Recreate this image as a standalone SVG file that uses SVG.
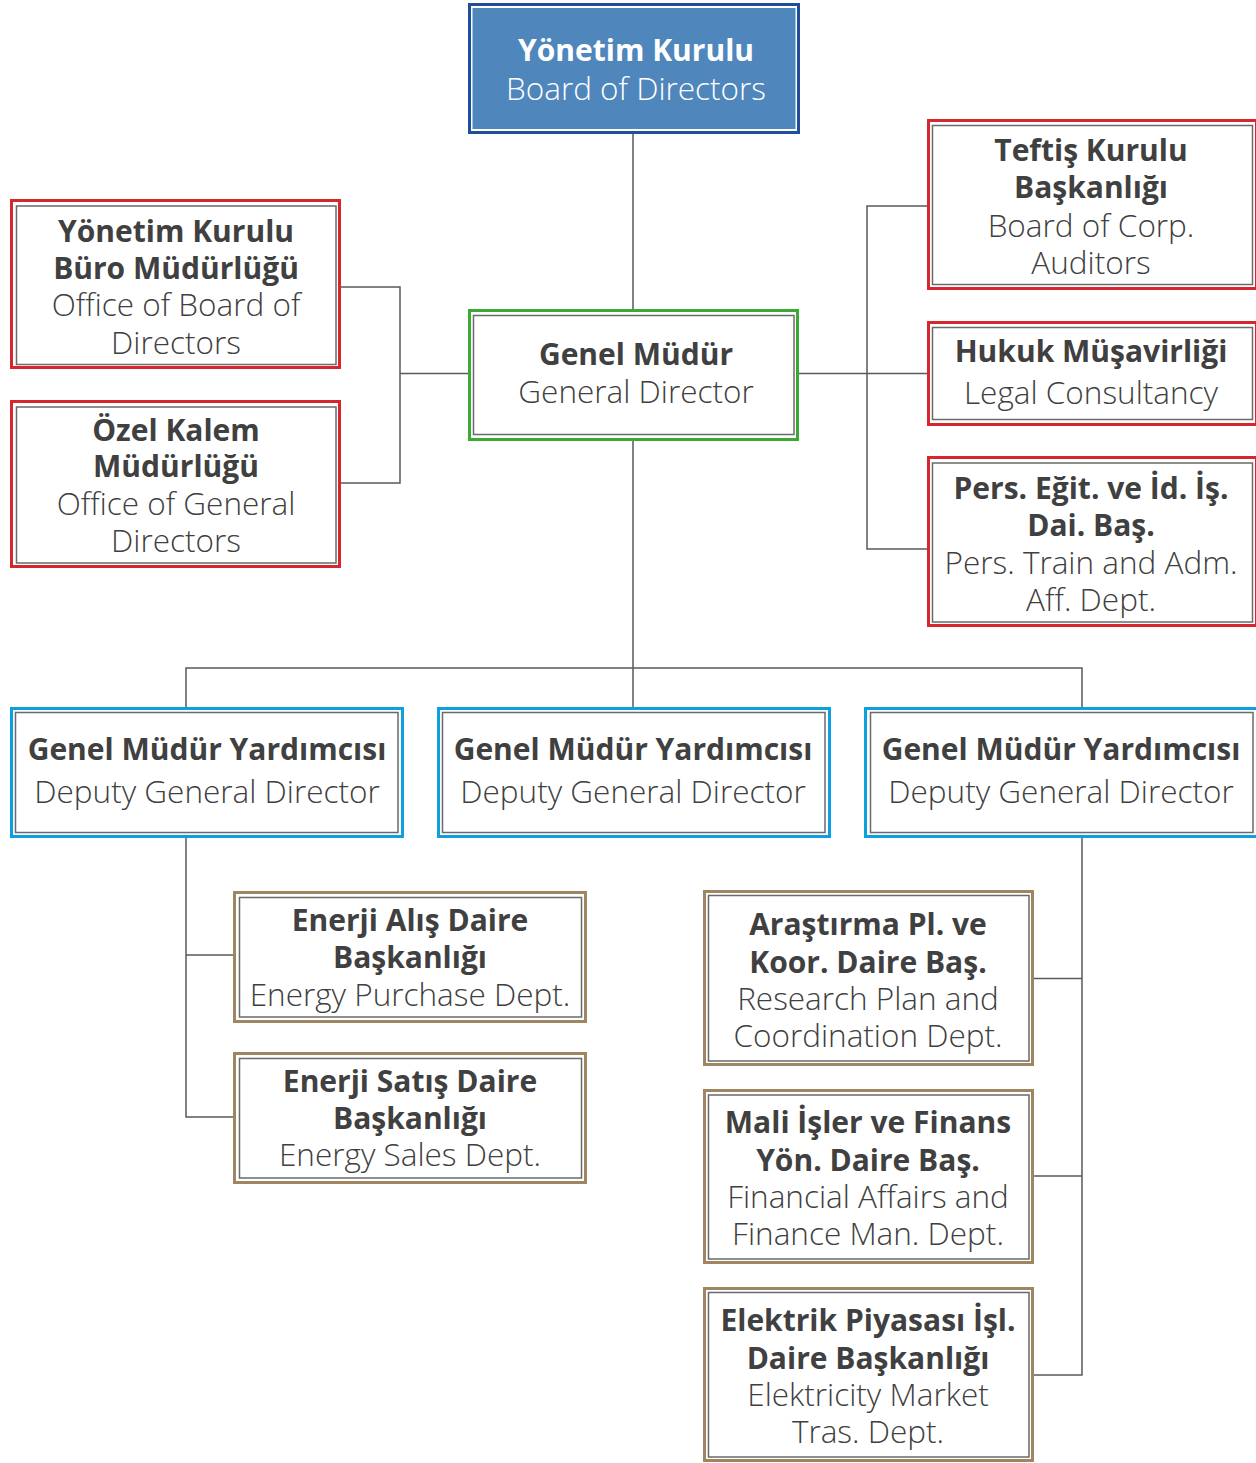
<svg xmlns="http://www.w3.org/2000/svg" width="1256" height="1463" viewBox="0 0 1256 1463">
<style>
.b{font-family:"Open Sans","Noto Sans","Liberation Sans",sans-serif;font-weight:700;font-size:30px;fill:#404040;text-anchor:middle}
.l{font-family:"Open Sans","Noto Sans","Liberation Sans",sans-serif;font-weight:300;font-size:31.5px;fill:#404040;text-anchor:middle}
.w{fill:#ffffff}
.in{fill:#fff;stroke:#6a6a6a;stroke-width:1.5}
.red{fill:#fff;stroke:#d7262e;stroke-width:3}
.grn{fill:#fff;stroke:#3aaa35;stroke-width:3}
.blu{fill:#fff;stroke:#0da0e0;stroke-width:3}
.brn{fill:#fff;stroke:#a08660;stroke-width:3}
.cn{fill:none;stroke:#595959;stroke-width:1.5}
</style>
<g id="connectors">
<path class="cn" d="M633 134V309M633 440V707M186 707V668H1082V707"/>
<path class="cn" d="M468 373.5H400M341 287H400V483H341"/>
<path class="cn" d="M799 373.5H927M927 206H867V549H927"/>
<path class="cn" d="M186 838V1117H234M186 955H234"/>
<path class="cn" d="M1082 838V1375H1034M1034 978.5H1082M1034 1176H1082"/>
</g>
<g id="board">
<rect x="469.5" y="4.5" width="329" height="128" fill="#fff" stroke="#1f4f9c" stroke-width="3"/>
<rect x="472.5" y="8" width="323" height="121" fill="#4f86bb"/>
<text class="b w" x="636" y="61">Yönetim Kurulu</text>
<text class="l w" x="636" y="100">Board of Directors</text>
</g>
<g id="buro">
<rect class="red" x="11.5" y="200.5" width="328" height="167"/>
<rect class="in" x="16.5" y="206" width="319.5" height="158.5"/>
<text class="b" x="176" y="242">Yönetim Kurulu</text>
<text class="b" x="176" y="279">Büro Müdürlüğü</text>
<text class="l" x="176" y="316">Office of Board of</text>
<text class="l" x="176" y="354">Directors</text>
</g>
<g id="ozel">
<rect class="red" x="11.5" y="401.5" width="328" height="165"/>
<rect class="in" x="16.5" y="407" width="319.5" height="156"/>
<text class="b" x="176" y="441">Özel Kalem</text>
<text class="b" x="176" y="477">Müdürlüğü</text>
<text class="l" x="176" y="515">Office of General</text>
<text class="l" x="176" y="552">Directors</text>
</g>
<g id="genel">
<rect class="grn" x="469.5" y="310.5" width="328" height="129"/>
<rect class="in" x="473.5" y="315.5" width="320.5" height="119"/>
<text class="b" x="636" y="365">Genel Müdür</text>
<text class="l" x="636" y="403">General Director</text>
</g>
<g id="teftis">
<rect class="red" x="928.5" y="120.5" width="328" height="168"/>
<rect class="in" x="932.5" y="125.5" width="320" height="159"/>
<text class="b" x="1091" y="161">Teftiş Kurulu</text>
<text class="b" x="1091" y="198">Başkanlığı</text>
<text class="l" x="1091" y="237">Board of Corp.</text>
<text class="l" x="1091" y="274">Auditors</text>
</g>
<g id="hukuk">
<rect class="red" x="928.5" y="322.5" width="328" height="102"/>
<rect class="in" x="932.5" y="327.5" width="320" height="92"/>
<text class="b" x="1091" y="362">Hukuk Müşavirliği</text>
<text class="l" x="1091" y="404">Legal Consultancy</text>
</g>
<g id="pers">
<rect class="red" x="928.5" y="457.5" width="328" height="168"/>
<rect class="in" x="932.5" y="463" width="320" height="159"/>
<text class="b" x="1091" y="499">Pers. Eğit. ve İd. İş.</text>
<text class="b" x="1091" y="536">Dai. Baş.</text>
<text class="l" x="1091" y="574">Pers. Train and Adm.</text>
<text class="l" x="1091" y="611">Aff. Dept.</text>
</g>
<g id="gmy1">
<rect class="blu" x="11.5" y="708.5" width="391" height="128"/>
<rect class="in" x="15.5" y="712.5" width="382.5" height="120"/>
<text class="b" x="207" y="760">Genel Müdür Yardımcısı</text>
<text class="l" x="207" y="803">Deputy General Director</text>
</g>
<g id="gmy2">
<rect class="blu" x="438.5" y="708.5" width="391" height="128"/>
<rect class="in" x="442.5" y="712.5" width="382.5" height="120"/>
<text class="b" x="633" y="760">Genel Müdür Yardımcısı</text>
<text class="l" x="633" y="803">Deputy General Director</text>
</g>
<g id="gmy3">
<rect class="blu" x="865.5" y="708.5" width="392" height="128"/>
<rect class="in" x="870.5" y="712.5" width="382.5" height="120"/>
<text class="b" x="1061" y="760">Genel Müdür Yardımcısı</text>
<text class="l" x="1061" y="803">Deputy General Director</text>
</g>
<g id="alis">
<rect class="brn" x="234.5" y="892.5" width="351" height="129"/>
<rect class="in" x="239.5" y="897.5" width="342" height="119.5"/>
<text class="b" x="410" y="931">Enerji Alış Daire</text>
<text class="b" x="410" y="968">Başkanlığı</text>
<text class="l" x="410" y="1006">Energy Purchase Dept.</text>
</g>
<g id="satis">
<rect class="brn" x="234.5" y="1053.5" width="351" height="129"/>
<rect class="in" x="239.5" y="1058.5" width="342" height="119.5"/>
<text class="b" x="410" y="1092">Enerji Satış Daire</text>
<text class="b" x="410" y="1129">Başkanlığı</text>
<text class="l" x="410" y="1166">Energy Sales Dept.</text>
</g>
<g id="arastirma">
<rect class="brn" x="704.5" y="891.5" width="328" height="173"/>
<rect class="in" x="708.5" y="895.5" width="320.5" height="165.5"/>
<text class="b" x="868" y="935">Araştırma Pl. ve</text>
<text class="b" x="868" y="973">Koor. Daire Baş.</text>
<text class="l" x="868" y="1010">Research Plan and</text>
<text class="l" x="868" y="1047">Coordination Dept.</text>
</g>
<g id="mali">
<rect class="brn" x="704.5" y="1090.5" width="328" height="172"/>
<rect class="in" x="708.5" y="1095" width="320.5" height="164"/>
<text class="b" x="868" y="1133">Mali İşler ve Finans</text>
<text class="b" x="868" y="1171">Yön. Daire Baş.</text>
<text class="l" x="868" y="1208">Financial Affairs and</text>
<text class="l" x="868" y="1245">Finance Man. Dept.</text>
</g>
<g id="elektrik">
<rect class="brn" x="704.5" y="1288.5" width="328" height="172"/>
<rect class="in" x="708.5" y="1292.5" width="320.5" height="164.5"/>
<text class="b" x="868" y="1331">Elektrik Piyasası İşl.</text>
<text class="b" x="868" y="1369">Daire Başkanlığı</text>
<text class="l" x="868" y="1406">Elektricity Market</text>
<text class="l" x="868" y="1443">Tras. Dept.</text>
</g>
</svg>
